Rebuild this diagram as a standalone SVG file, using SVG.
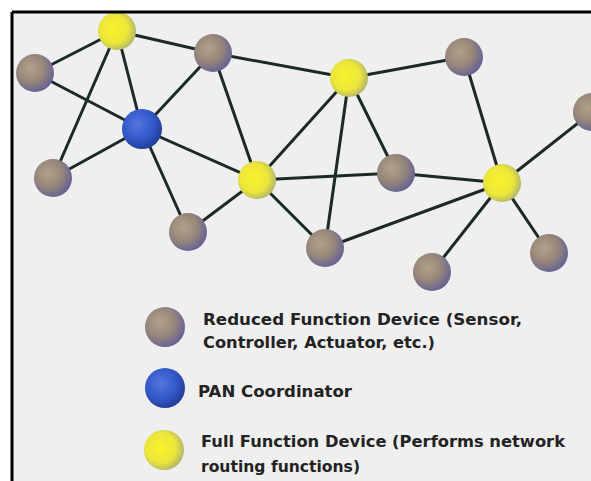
<svg xmlns="http://www.w3.org/2000/svg" width="591" height="481" viewBox="0 0 591 481">
  <defs>
    <radialGradient id="gRfd" cx="0.38" cy="0.38" r="0.65">
      <stop offset="0" stop-color="#b2a28a"/>
      <stop offset="0.55" stop-color="#96877a"/>
      <stop offset="1" stop-color="#686294"/>
    </radialGradient>
    <radialGradient id="gPan" cx="0.4" cy="0.38" r="0.65">
      <stop offset="0" stop-color="#5277e0"/>
      <stop offset="0.6" stop-color="#3358c8"/>
      <stop offset="1" stop-color="#223c98"/>
    </radialGradient>
    <radialGradient id="gFfd" cx="0.42" cy="0.45" r="0.62">
      <stop offset="0" stop-color="#f8f22a"/>
      <stop offset="0.6" stop-color="#ece63a"/>
      <stop offset="1" stop-color="#a8b070"/>
    </radialGradient>
    <clipPath id="frameClip">
      <rect x="13" y="13" width="578" height="468"/>
    </clipPath>
    <style>
      .link { stroke: #1c2929; stroke-width: 3; stroke-linecap: round; }
      .rfd { fill: url(#gRfd); }
      .pan { fill: url(#gPan); }
      .ffd { fill: url(#gFfd); }
      .label { font-family: "DejaVu Sans", Verdana, sans-serif; font-weight: bold; font-size: 15.5px; fill: #232323; }
    </style>
  </defs>

  <rect width="591" height="481" fill="#ffffff"/>
  <rect x="12" y="12" width="579" height="469" fill="#efefef"/>

  <g clip-path="url(#frameClip)">
    <g id="connectors">
      <line class="link" x1="117" y1="31" x2="35" y2="73"/>
      <line class="link" x1="117" y1="31" x2="213" y2="53"/>
      <line class="link" x1="117" y1="31" x2="53" y2="178"/>
      <line class="link" x1="117" y1="31" x2="142" y2="129"/>
      <line class="link" x1="35" y1="73" x2="142" y2="129"/>
      <line class="link" x1="142" y1="129" x2="53" y2="178"/>
      <line class="link" x1="142" y1="129" x2="213" y2="53"/>
      <line class="link" x1="142" y1="129" x2="257" y2="180"/>
      <line class="link" x1="142" y1="129" x2="188" y2="232"/>
      <line class="link" x1="213" y1="53" x2="257" y2="180"/>
      <line class="link" x1="213" y1="53" x2="349" y2="78"/>
      <line class="link" x1="188" y1="232" x2="257" y2="180"/>
      <line class="link" x1="257" y1="180" x2="349" y2="78"/>
      <line class="link" x1="257" y1="180" x2="396" y2="173"/>
      <line class="link" x1="257" y1="180" x2="325" y2="248"/>
      <line class="link" x1="349" y1="78" x2="464" y2="57"/>
      <line class="link" x1="349" y1="78" x2="396" y2="173"/>
      <line class="link" x1="349" y1="78" x2="325" y2="248"/>
      <line class="link" x1="464" y1="57" x2="502" y2="183"/>
      <line class="link" x1="396" y1="173" x2="502" y2="183"/>
      <line class="link" x1="325" y1="248" x2="502" y2="183"/>
      <line class="link" x1="502" y1="183" x2="592" y2="112"/>
      <line class="link" x1="502" y1="183" x2="432" y2="272"/>
      <line class="link" x1="502" y1="183" x2="549" y2="253"/>
    </g>

    <g id="node-ffd-1"><circle class="ffd" cx="117" cy="31" r="19"/></g>
    <g id="node-rfd-1"><circle class="rfd" cx="35" cy="73" r="19"/></g>
    <g id="node-rfd-2"><circle class="rfd" cx="213" cy="53" r="19"/></g>
    <g id="node-pan"><circle class="pan" cx="142" cy="129" r="20"/></g>
    <g id="node-rfd-3"><circle class="rfd" cx="53" cy="178" r="19"/></g>
    <g id="node-rfd-4"><circle class="rfd" cx="188" cy="232" r="19"/></g>
    <g id="node-ffd-2"><circle class="ffd" cx="257" cy="180" r="19"/></g>
    <g id="node-ffd-3"><circle class="ffd" cx="349" cy="78" r="19"/></g>
    <g id="node-rfd-5"><circle class="rfd" cx="464" cy="57" r="19"/></g>
    <g id="node-rfd-6"><circle class="rfd" cx="396" cy="173" r="19"/></g>
    <g id="node-rfd-7"><circle class="rfd" cx="325" cy="248" r="19"/></g>
    <g id="node-ffd-4"><circle class="ffd" cx="502" cy="183" r="19"/></g>
    <g id="node-rfd-8"><circle class="rfd" cx="592" cy="112" r="19"/></g>
    <g id="node-rfd-9"><circle class="rfd" cx="432" cy="272" r="19"/></g>
    <g id="node-rfd-10"><circle class="rfd" cx="549" cy="253" r="19"/></g>
  </g>

  <g id="legend">
    <circle class="rfd" cx="165" cy="327" r="20"/>
    <text class="label" x="203" y="325" textLength="319" lengthAdjust="spacingAndGlyphs">Reduced Function Device (Sensor,</text>
    <text class="label" x="203" y="348" textLength="232" lengthAdjust="spacingAndGlyphs">Controller, Actuator, etc.)</text>
    <circle class="pan" cx="165" cy="388" r="20"/>
    <text class="label" x="198" y="397" textLength="154" lengthAdjust="spacingAndGlyphs">PAN Coordinator</text>
    <circle class="ffd" cx="164" cy="450" r="20"/>
    <text class="label" x="201" y="447" textLength="364" lengthAdjust="spacingAndGlyphs">Full Function Device (Performs network</text>
    <text class="label" x="201" y="472" textLength="159" lengthAdjust="spacingAndGlyphs">routing functions)</text>
  </g>

  <g id="frame" stroke="#000000" stroke-width="3">
    <line x1="12" y1="12" x2="591" y2="12"/>
    <line x1="12" y1="12" x2="12" y2="481"/>
  </g>
</svg>
